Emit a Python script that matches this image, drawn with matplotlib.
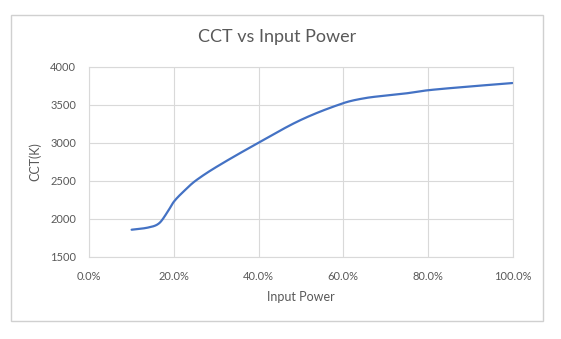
import numpy as np
import matplotlib
matplotlib.use("Agg")
import matplotlib.pyplot as plt
from matplotlib.patches import Rectangle
from matplotlib.ticker import PercentFormatter

plt.rcParams['font.family'] = ['Lato', 'DejaVu Sans']

# Measured CCT at each input-power level
input_power = [0.10, 0.14, 0.165, 0.185, 0.20, 0.225, 0.25, 0.30, 0.40, 0.50,
               0.60, 0.65, 0.70, 0.75, 0.80, 0.90, 1.00]
cct_k = [1855, 1885, 1940, 2090, 2225, 2370, 2495, 2680, 3000, 3300,
         3520, 3585, 3620, 3650, 3690, 3740, 3785]

y_ticks = [1500, 2000, 2500, 3000, 3500, 4000]
x_ticks = [0.0, 0.2, 0.4, 0.6, 0.8, 1.0]

LINE = '#4472C4'
GRID = '#D9D9D9'
TEXT = '#595959'


def smooth(xs, ys, n=40):
    """Cubic Hermite curve through the points with centred-difference tangents."""
    xs = np.asarray(xs, float)
    ys = np.asarray(ys, float)
    m = np.empty_like(ys)
    m[1:-1] = (ys[2:] - ys[:-2]) / (xs[2:] - xs[:-2])
    m[0] = (ys[1] - ys[0]) / (xs[1] - xs[0])
    m[-1] = (ys[-1] - ys[-2]) / (xs[-1] - xs[-2])
    out_x, out_y = [], []
    for i in range(len(xs) - 1):
        h = xs[i + 1] - xs[i]
        t = np.linspace(0, 1, n, endpoint=False)
        h00 = 2 * t**3 - 3 * t**2 + 1
        h10 = t**3 - 2 * t**2 + t
        h01 = -2 * t**3 + 3 * t**2
        h11 = t**3 - t**2
        out_x.extend(xs[i] + t * h)
        out_y.extend(h00 * ys[i] + h10 * h * m[i] + h01 * ys[i + 1] + h11 * h * m[i + 1])
    out_x.append(xs[-1])
    out_y.append(ys[-1])
    return np.array(out_x), np.array(out_y)


W, H = 561, 339
fig = plt.figure(figsize=(W / 100, H / 100), dpi=100)

# chart frame
fig.patches.append(Rectangle((10.7 / W, 1 - 321 / H), 532 / W, 306 / H,
                             transform=fig.transFigure, fill=False,
                             edgecolor='#D0D0D0', linewidth=1.0))

ax = fig.add_axes([89.3 / W, 1 - 256.7 / H, 423.2 / W, 190 / H])
sx, sy = smooth(input_power, cct_k)
ax.plot(sx, sy, color=LINE, linewidth=1.6, solid_capstyle='round')

ax.set_xlim(0, 1)
ax.set_ylim(1500, 4000)
ax.set_xticks(x_ticks)
ax.set_yticks(y_ticks)
ax.xaxis.set_major_formatter(PercentFormatter(1.0, decimals=1))
ax.grid(True, color=GRID, linewidth=0.8)
ax.set_axisbelow(True)
for s in ax.spines.values():
    s.set_color(GRID)
    s.set_linewidth(0.8)
ax.tick_params(axis='y', length=0, labelsize=8, colors=TEXT, pad=9.5)
ax.tick_params(axis='x', length=0, labelsize=8, colors=TEXT, pad=10)

ax.set_xlabel('Input Power', fontsize=9, color=TEXT, labelpad=7)
ax.set_ylabel('CCT(K)', fontsize=9, color=TEXT, labelpad=6)
fig.text(277 / W, 1 - 36.7 / H, 'CCT vs Input Power', ha='center', va='center',
         fontsize=13, color=TEXT)

fig.savefig('out.png', dpi=100, facecolor='white')
